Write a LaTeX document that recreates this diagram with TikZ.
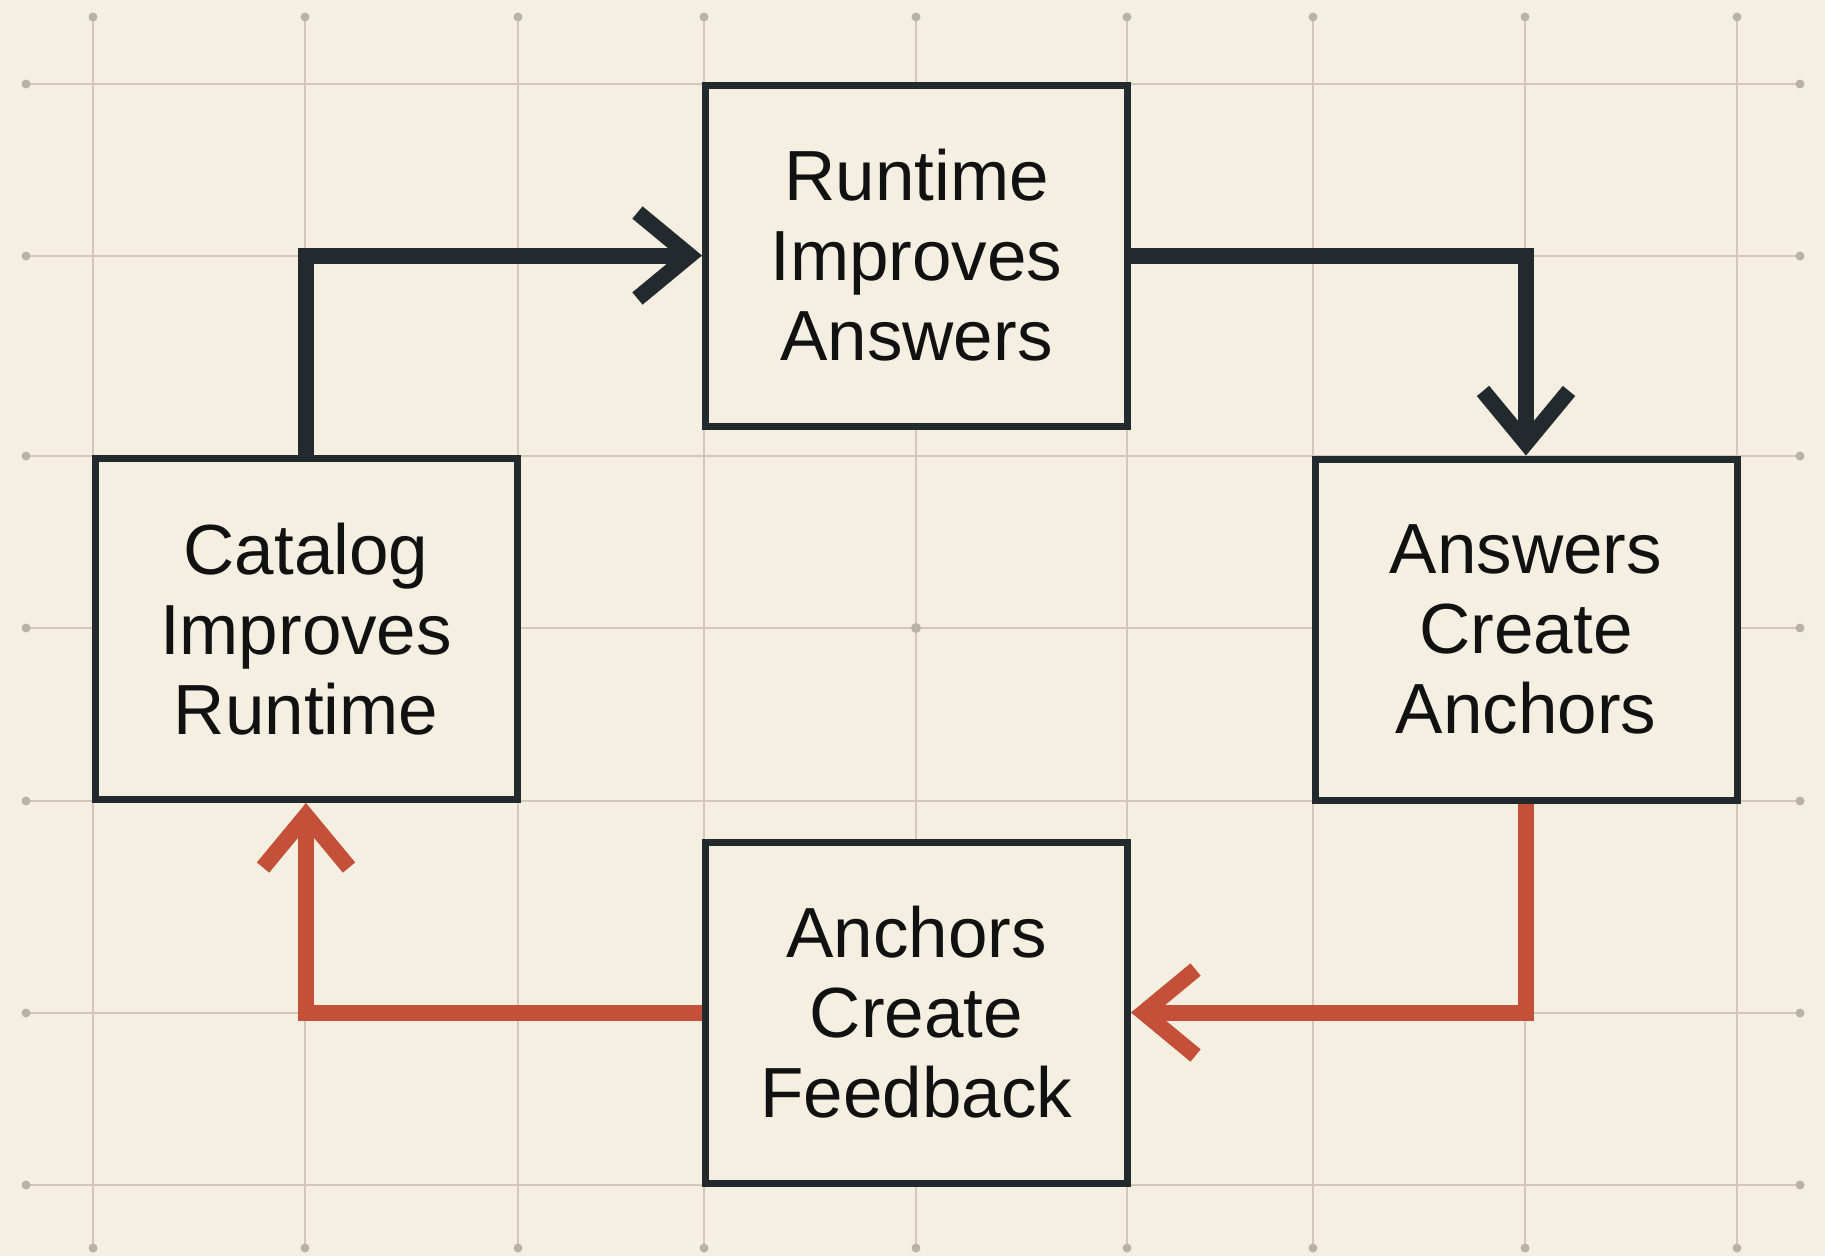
\documentclass[tikz,border=0pt]{standalone}
\usepackage{fontspec}
\setmainfont{Liberation Sans}
\usetikzlibrary{arrows.meta}

\definecolor{paper}{HTML}{F4EFE1}
\definecolor{gridcol}{HTML}{D0C9BB}
\definecolor{gridpt}{HTML}{B9B3A7}
\definecolor{ink}{HTML}{232A2D}
\definecolor{textcol}{HTML}{111111}
\definecolor{rust}{HTML}{C4503A}

\pgfdeclarelayer{sheet}
\pgfdeclarelayer{links}
\pgfsetlayers{sheet,links,main}

\tikzset{
  gridline/.style={draw=gridcol, line width=2.5pt},
  griddot/.style={fill=gridpt},
  stepbox/.style={draw=ink, line width=7pt, fill=paper, text=textcol,
    minimum width=422pt, minimum height=341pt, inner sep=0pt, align=center,
    font=\fontsize{71}{80}\selectfont},
  flow/.style={line width=16pt, line join=miter, line cap=butt,
    -{Straight Barb[length=52pt, width=86pt, sharp]}},
  flowdark/.style={flow, draw=ink},
  flowred/.style={flow, draw=rust},
}

\begin{document}
\begin{tikzpicture}[x=1pt, y=-1pt]
  \useasboundingbox (0,0) rectangle (1825,1256);

  % squared paper background with dotted line ends
  \begin{pgfonlayer}{sheet}
    \fill[paper] (0,0) rectangle (1825,1256);
    \foreach \gx in {93,305,518,704,916,1127,1313,1525,1737} {
      \draw[gridline] (\gx,17) -- (\gx,1248);
      \fill[griddot] (\gx,17) circle[radius=4.5pt];
      \fill[griddot] (\gx,1248) circle[radius=4.5pt];
    }
    \foreach \gy in {84,256,456,628,801,1013,1185} {
      \draw[gridline] (26,\gy) -- (1800,\gy);
      \fill[griddot] (26,\gy) circle[radius=4.5pt];
      \fill[griddot] (1800,\gy) circle[radius=4.5pt];
    }
    \fill[griddot] (916,628) circle[radius=5pt];
  \end{pgfonlayer}

  % the four stages of the loop
  \node[stepbox] (runtime)  at (916.5,255.5) {Runtime\\Improves\\Answers};
  \node[stepbox] (catalog)  at (306,629)     {Catalog\\Improves\\Runtime};
  \node[stepbox] (answers)  at (1526,629.5)  {Answers\\Create\\Anchors};
  \node[stepbox] (feedback) at (916.5,1012.5){Anchors\\Create\\Feedback};

  % connectors, kept beneath the boxes
  \begin{pgfonlayer}{links}
    \draw[flowdark] (catalog.north) |- (runtime.west);
    \draw[flowdark] (runtime.east) -| (answers.north);
    \draw[flowred]  (answers.south) |- (feedback.east);
    \draw[flowred]  (feedback.west) -| (catalog.south);
  \end{pgfonlayer}
\end{tikzpicture}
\end{document}
